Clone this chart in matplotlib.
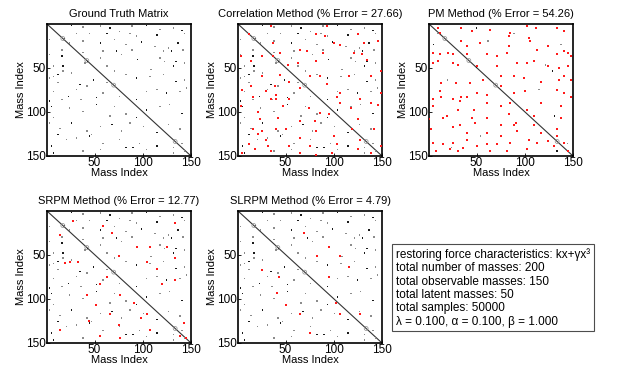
import matplotlib
matplotlib.use('Agg')
import matplotlib.pyplot as plt

# =========================
# Data (row, column) of the non-zero entries
# =========================

n_obs = 150

gt_rows = [2, 4, 3, 5, 9, 3, 2, 7, 5, 8, 11, 11, 11, 11, 14, 13, 11,
           18, 17, 22, 20, 22, 18, 24, 21, 26, 28, 22, 30, 31, 31, 30, 31, 31, 30,
           35, 37, 33, 45, 43, 39, 35, 41, 39, 43, 43, 45, 48, 48, 48, 52, 48,
           62, 60, 58, 54, 56, 64, 54, 58, 62, 60, 58, 66, 64, 67, 69, 67,
           77, 83, 75, 71, 84, 79, 83, 86, 77, 75, 79, 77, 73, 88, 86, 86,
           94, 96, 100, 92, 94, 103, 98, 94, 92, 102, 107, 105, 107,
           113, 119, 113, 122, 117, 115, 113, 117, 124, 115, 120, 126, 126, 122,
           139, 132, 130, 128, 136, 132, 141, 136, 143, 139, 141, 136, 147, 145,
           143, 141, 147, 145]
gt_cols = [26, 38, 56, 66, 76, 89, 104, 118, 132, 141, 31, 45, 63, 87, 94, 115, 144,
           3, 19, 24, 38, 56, 71, 83, 99, 113, 127, 137, 16, 59, 73, 89, 122, 130, 142,
           3, 16, 38, 40, 43, 56, 78, 95, 118, 123, 135, 144, 7, 17, 63, 109, 132,
           3, 7, 12, 17, 26, 49, 71, 83, 94, 108, 122, 135, 144, 12, 35, 63,
           7, 23, 31, 42, 52, 59, 76, 94, 104, 115, 125, 139, 146, 3, 16, 36,
           5, 24, 38, 52, 71, 83, 104, 118, 128, 141, 7, 66, 94,
           3, 14, 26, 42, 56, 68, 87, 101, 115, 127, 139, 12, 47, 78,
           5, 21, 31, 45, 59, 76, 83, 97, 104, 115, 132, 141, 7, 38,
           56, 90, 132, 144]

# latent-mass markers sitting on the diagonal
latent_idx = [17, 42, 70, 134]

corr_red_rows = [3, 3, 12, 12, 14, 22, 24, 12, 22, 20, 22, 33, 30, 37, 37, 37, 31, 33,
                 33, 35, 43, 47, 45, 43, 41, 54, 60, 58, 60, 60, 60, 60, 71, 71, 66,
                 73, 69, 75, 77, 81, 79, 79, 84, 86, 86, 86, 84, 86, 90, 92, 94, 100,
                 94, 96, 102, 103, 96, 90, 109, 107, 111, 111, 109, 120, 122, 120, 120,
                 122, 120, 120, 126, 132, 130, 128, 132, 137, 139, 139, 139, 137, 147,
                 143, 145, 147, 149, 147, 143, 139, 147]
corr_red_cols = [35, 93, 12, 82, 91, 100, 107, 125, 132, 146, 37, 44, 65, 4, 25, 37, 72, 89,
                 121, 130, 14, 53, 63, 82, 135, 149, 25, 44, 75, 86, 116, 139, 14, 39, 54,
                 65, 93, 5, 30, 40, 107, 149, 16, 35, 40, 54, 104, 128, 139, 146, 4, 21,
                 47, 74, 86, 95, 118, 107, 23, 42, 65, 81, 126, 16, 25, 40, 51,
                 82, 119, 142, 21, 30, 65, 100, 128, 12, 32, 54, 75, 104, 5,
                 18, 35, 65, 82, 98, 125, 149, 139]

pm_red_rows = [5, 5, 9, 7, 11, 14, 3, 5, 5, 9, 11, 20, 26, 22, 26, 16, 20, 30, 26, 35,
               31, 33, 37, 33, 35, 33, 35, 35, 35, 37, 33, 45, 45, 43, 45, 43, 45, 47,
               48, 48, 48, 50, 48, 67, 67, 67, 64, 60, 60, 62, 66, 64, 60, 64, 77, 83,
               86, 84, 79, 81, 71, 79, 77, 75, 79, 84, 94, 86, 88, 83, 90, 94, 90, 98,
               90, 94, 98, 98, 105, 107, 107, 107, 103, 113, 105, 107, 109, 117, 115,
               113, 115, 115, 115, 120, 120, 124, 124, 128, 122, 124, 128, 136, 137,
               136, 132, 137, 137, 136, 132, 136, 134, 136, 145, 143, 145, 141, 139,
               145, 145, 143, 139, 145]
pm_red_cols = [10, 34, 45, 64, 85, 84, 103, 112, 134, 141, 12, 34, 40, 54, 84, 105, 106,
               113, 124, 134, 141, 145, 148, 5, 12, 20, 26, 40, 61, 71, 82, 92, 103, 110,
               5, 10, 26, 31, 50, 71, 124, 136, 145, 13, 29, 43, 57, 75, 89, 99, 117,
               136, 141, 148, 12, 13, 5, 34, 50, 61, 75, 89, 101, 134, 141, 148, 5, 26,
               33, 40, 61, 75, 85, 103, 117, 138, 31, 47, 19, 15, 45, 61, 84, 91, 110,
               138, 1, 26, 33, 48, 75, 89, 110, 134, 3, 40, 61, 75, 92, 117, 134, 5, 15,
               26, 40, 61, 71, 85, 105, 113, 124, 141, 8, 22, 31, 36, 50, 64, 82, 103,
               131, 145]
pm_blk_rows = [5, 11, 20, 24, 24, 47, 54, 64, 75, 105, 128, 141, 145, 136, 11, 50]
pm_blk_cols = [50, 89, 62, 5, 138, 122, 129, 20, 115, 131, 54, 24, 134, 145, 10, 50]

srpm_red_rows = [12, 28, 18, 26, 14, 41, 41, 41, 58, 60, 58, 75, 52, 58, 66, 54, 96,
                 107, 117, 130, 105, 122, 117, 136, 126, 143, 145, 136, 143, 145, 128,
                 84, 79, 84, 96]
srpm_red_cols = [28, 14, 59, 68, 134, 94, 108, 125, 24, 19, 33, 63, 75, 105, 115, 134,
                 42, 52, 66, 75, 91, 98, 105, 14, 44, 56, 77, 108, 139, 145, 143,
                 120, 134, 56, 77]

slrpm_red_rows = [26, 41, 52, 52, 64, 67, 75, 94, 107, 117, 139, 105, 117, 117, 75]
slrpm_red_cols = [69, 95, 83, 107, 116, 25, 43, 41, 51, 65, 76, 103, 107, 128, 95]

titles = ['Ground Truth Matrix',
          'Correlation Method (% Error = 27.66)',
          'PM Method (% Error = 54.26)',
          'SRPM Method (% Error = 12.77)',
          'SLRPM Method (% Error = 4.79)']

info_lines = ['restoring force characteristics: kx+\u03b3x\u00b3',
              'total number of masses: 200',
              'total observable masses: 150',
              'total latent masses: 50',
              'total samples: 50000',
              '\u03bb = 0.100, \u03b1 = 0.100, \u03b2 = 1.000']

# =========================
# Plot
# =========================

plt.rcParams['font.family'] = ['Liberation Sans', 'DejaVu Sans']

fig = plt.figure(figsize=(6.24, 3.71), dpi=100)

# axes boxes in pixels: left, top (all 144 x 132)
boxes = [(47, 24), (238, 24), (429, 24), (47, 211), (238, 211)]
W, H = 624.0, 371.0
axes = []
for (x0, y0) in boxes:
    ax = fig.add_axes([x0 / W, 1 - (y0 + 132) / H, 144 / W, 132 / H])
    axes.append(ax)

# (black rows, black cols, red rows, red cols) per panel
panels = [(gt_rows, gt_cols, [], []),
          (gt_rows, gt_cols, corr_red_rows, corr_red_cols),
          (pm_blk_rows, pm_blk_cols, pm_red_rows, pm_red_cols),
          (gt_rows, gt_cols, srpm_red_rows, srpm_red_cols),
          (gt_rows, gt_cols, slrpm_red_rows, slrpm_red_cols)]

for ax, title, (br, bc, rr, rc) in zip(axes, titles, panels):
    ax.plot([0.5, n_obs + 0.5], [0.5, n_obs + 0.5], color='0.2', lw=0.8, zorder=1)
    shades = ['0.1' if i % 3 == 0 else '0.55' for i in range(len(br))]
    ax.scatter(bc, br, s=1.1, marker='s', c=shades, linewidths=0, zorder=2)
    if rr:
        ax.scatter(rc, rr, s=1.1, marker='s', c='#ff1a1a', linewidths=0, zorder=3)
    ax.scatter(latent_idx, latent_idx, s=8, marker='o', facecolors='none',
               edgecolors='0.55', linewidths=0.5, zorder=2)
    ax.set_xlim(0.5, n_obs + 0.5)
    ax.set_ylim(n_obs + 0.5, 0.5)
    ax.set_xticks([50, 100, 150])
    ax.set_yticks([50, 100, 150])
    ax.tick_params(direction='in', length=2, width=0.6, labelsize=8.5, pad=1)
    for s in ax.spines.values():
        s.set_linewidth(1.2)
    ax.set_title(title, fontsize=8, pad=5)
    ax.set_xlabel('Mass Index', fontsize=8, labelpad=-1)
    ax.set_ylabel('Mass Index', fontsize=8, labelpad=0)

# info box
fig.text(396 / W, 1 - 248 / H, '\n'.join(info_lines), fontsize=8.5,
         va='top', ha='left', linespacing=1.15,
         bbox=dict(boxstyle='square,pad=0.3', facecolor='white',
                   edgecolor='0.3', linewidth=0.8))

fig.savefig('out.png', dpi=100)
